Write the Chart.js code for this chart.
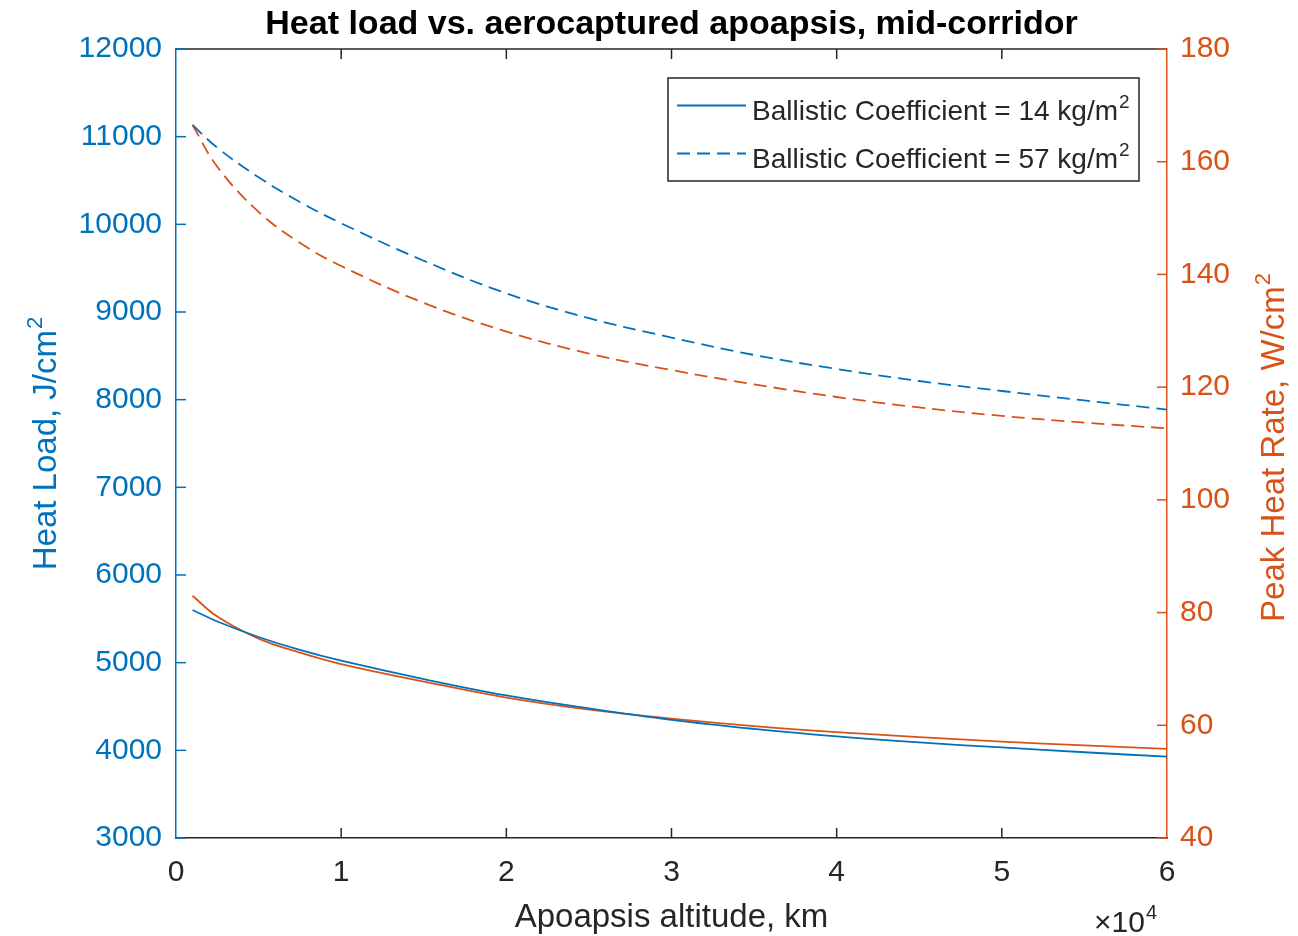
<!DOCTYPE html>
<html>
<head>
<meta charset="utf-8">
<title>Heat load vs. aerocaptured apoapsis</title>
<script src="https://cdn.jsdelivr.net/npm/chart.js@4.4.1/dist/chart.umd.min.js"></script>
<style>
  body { margin: 0; background: #fff; }
  canvas { display: block; }
</style>
</head>
<body>
<canvas id="chart-heat" width="1298" height="936"></canvas>
<script>
// apoapsis altitude, km
const altitudeKm = [1000, 2500, 5000, 7500, 10000, 15000, 20000, 25000, 30000, 35000, 40000, 45000, 50000, 55000, 60000];

// heat load, J/cm^2 (left axis)
const heatLoadBC14 = [5601, 5470, 5293, 5145, 5022, 4812, 4626, 4478, 4347, 4244, 4159, 4090, 4033, 3978, 3928];
const heatLoadBC57 = [11133, 10874, 10537, 10255, 10012, 9585, 9213, 8930, 8708, 8510, 8350, 8213, 8099, 7991, 7887];

// peak heat rate, W/cm^2 (right axis)
const peakRateBC14 = [82.98, 79.29, 75.38, 72.9, 70.86, 67.76, 64.92, 62.79, 61.19, 59.86, 58.79, 57.91, 57.11, 56.43, 55.83];
const peakRateBC57 = [166.51, 159.11, 151.1, 145.6, 141.5, 134.95, 129.87, 125.96, 123.03, 120.5, 118.25, 116.4, 114.9, 113.7, 112.69];

const legendLabels = ["Ballistic Coefficient = 14 kg/m^2", "Ballistic Coefficient = 57 kg/m^2"];

const BLUE = "#0072BD";
const ORANGE = "#D95319";
const AXIS = "#262626";
const FONT = "'Liberation Sans', Arial, Helvetica, sans-serif";
const DASH = [13, 7];

const toPoints = (ys) => altitudeKm.map((x, i) => ({ x: x, y: ys[i] }));

// text with a "^" superscript part
function drawSup(ctx, text, x, y, size, align) {
    const parts = text.split("^");
    ctx.font = size + "px " + FONT;
    const w1 = ctx.measureText(parts[0]).width;
    const supSize = Math.round(size * 0.68);
    let w2 = 0;
    if (parts[1]) {
        ctx.font = supSize + "px " + FONT;
        w2 = ctx.measureText(parts[1]).width + 1;
    }
    let x0 = x;
    if (align === "center") x0 = x - (w1 + w2) / 2;
    ctx.textAlign = "left";
    ctx.textBaseline = "alphabetic";
    ctx.font = size + "px " + FONT;
    ctx.fillText(parts[0], x0, y);
    if (parts[1]) {
        ctx.font = supSize + "px " + FONT;
        ctx.fillText(parts[1], x0 + w1 + 1, y - size * 0.42);
    }
}

const extras = {
    id: "extras",
    afterDraw(chart) {
        const { ctx, chartArea: a, scales } = chart;
        ctx.save();
        ctx.lineWidth = 1.5;

        // top border
        ctx.strokeStyle = AXIS;
        ctx.beginPath();
        ctx.moveTo(a.left, a.top);
        ctx.lineTo(a.right, a.top);
        ctx.stroke();

        // inward tick marks
        const len = 10;
        ctx.strokeStyle = AXIS;
        scales.x.ticks.forEach(t => {
            const px = scales.x.getPixelForValue(t.value);
            if (px <= a.left + 1 || px >= a.right - 1) return;
            ctx.beginPath();
            ctx.moveTo(px, a.bottom); ctx.lineTo(px, a.bottom - len);
            ctx.moveTo(px, a.top); ctx.lineTo(px, a.top + len);
            ctx.stroke();
        });
        ctx.strokeStyle = BLUE;
        scales.y.ticks.forEach(t => {
            const py = scales.y.getPixelForValue(t.value);
            ctx.beginPath();
            ctx.moveTo(a.left, py); ctx.lineTo(a.left + len, py);
            ctx.stroke();
        });
        ctx.strokeStyle = ORANGE;
        scales.y1.ticks.forEach(t => {
            const py = scales.y1.getPixelForValue(t.value);
            ctx.beginPath();
            ctx.moveTo(a.right, py); ctx.lineTo(a.right - len, py);
            ctx.stroke();
        });

        // title
        const cx = (a.left + a.right) / 2;
        ctx.fillStyle = "#000";
        ctx.font = "bold 34px " + FONT;
        ctx.textAlign = "center";
        ctx.textBaseline = "alphabetic";
        ctx.fillText("Heat load vs. aerocaptured apoapsis, mid-corridor", cx, 34);

        // x axis title and exponent
        ctx.fillStyle = AXIS;
        drawSup(ctx, "Apoapsis altitude, km", cx, 927, 33, "center");
        drawSup(ctx, "\u00d710^4", 1094, 932, 30, "left");

        // y axis titles
        const cy = (a.top + a.bottom) / 2;
        ctx.save();
        ctx.translate(56, cy);
        ctx.rotate(-Math.PI / 2);
        ctx.fillStyle = BLUE;
        drawSup(ctx, "Heat Load, J/cm^2", 0, 0, 33, "center");
        ctx.restore();

        ctx.save();
        ctx.translate(1284, cy + 4);
        ctx.rotate(-Math.PI / 2);
        ctx.fillStyle = ORANGE;
        drawSup(ctx, "Peak Heat Rate, W/cm^2", 0, 0, 33, "center");
        ctx.restore();

        // legend box
        const lx = 668, ly = 78, lw = 471, lh = 103;
        ctx.fillStyle = "#fff";
        ctx.fillRect(lx, ly, lw, lh);
        ctx.strokeStyle = AXIS;
        ctx.lineWidth = 1.5;
        ctx.strokeRect(lx, ly, lw, lh);
        const rows = [105.5, 153.5];
        legendLabels.forEach((lab, i) => {
            ctx.strokeStyle = BLUE;
            ctx.lineWidth = 1.8;
            ctx.setLineDash(i === 0 ? [] : DASH);
            ctx.beginPath();
            ctx.moveTo(677, rows[i]);
            ctx.lineTo(746, rows[i]);
            ctx.stroke();
            ctx.setLineDash([]);
            ctx.fillStyle = AXIS;
            drawSup(ctx, lab, 752, rows[i] + 14.5, 28, "left");
        });
        ctx.restore();
    }
};

const dataChartHeat = {
    datasets: [
        {
            label: legendLabels[0],
            data: toPoints(heatLoadBC14),
            yAxisID: "y",
            borderColor: BLUE,
            borderWidth: 1.8,
        },
        {
            label: legendLabels[1],
            data: toPoints(heatLoadBC57),
            yAxisID: "y",
            borderColor: BLUE,
            borderWidth: 1.8,
            borderDash: DASH,
        },
        {
            label: "Peak heat rate, BC 14",
            data: toPoints(peakRateBC14),
            yAxisID: "y1",
            borderColor: ORANGE,
            borderWidth: 1.8,
        },
        {
            label: "Peak heat rate, BC 57",
            data: toPoints(peakRateBC57),
            yAxisID: "y1",
            borderColor: ORANGE,
            borderWidth: 1.8,
            borderDash: DASH,
        },
    ],
};

const configHeat = {
    type: "line",
    data: dataChartHeat,
    options: {
        responsive: false,
        animation: false,
        devicePixelRatio: 1,
        layout: { padding: { top: 49, left: 0, right: 0, bottom: 0 } },
        elements: {
            point: { radius: 0 },
            line: { tension: 0.4, fill: false },
        },
        plugins: {
            legend: { display: false },
            title: { display: false },
            tooltip: { enabled: false },
        },
        scales: {
            x: {
                type: "linear",
                min: 0,
                max: 60000,
                ticks: {
                    stepSize: 10000,
                    color: AXIS,
                    font: { family: FONT, size: 30 },
                    padding: 17,
                    maxRotation: 0,
                    callback: (v) => String(v / 10000),
                },
                grid: { drawOnChartArea: false, drawTicks: false },
                border: { color: AXIS, width: 1.5 },
                afterFit: (s) => { s.height = 98; },
            },
            y: {
                position: "left",
                min: 3000,
                max: 12000,
                ticks: {
                    stepSize: 1000,
                    color: BLUE,
                    font: { family: FONT, size: 30 },
                    padding: 14,
                    callback: (v) => String(v),
                },
                grid: { drawOnChartArea: false, drawTicks: false },
                border: { color: BLUE, width: 1.5 },
                afterFit: (s) => { s.width = 176; },
            },
            y1: {
                position: "right",
                min: 40,
                max: 180,
                ticks: {
                    stepSize: 20,
                    color: ORANGE,
                    font: { family: FONT, size: 30 },
                    padding: 13,
                    callback: (v) => String(v),
                },
                grid: { drawOnChartArea: false, drawTicks: false },
                border: { color: ORANGE, width: 1.5 },
                afterFit: (s) => { s.width = 131; },
            },
        },
    },
    plugins: [extras],
};

new Chart(document.getElementById("chart-heat"), configHeat);
</script>
</body>
</html>
